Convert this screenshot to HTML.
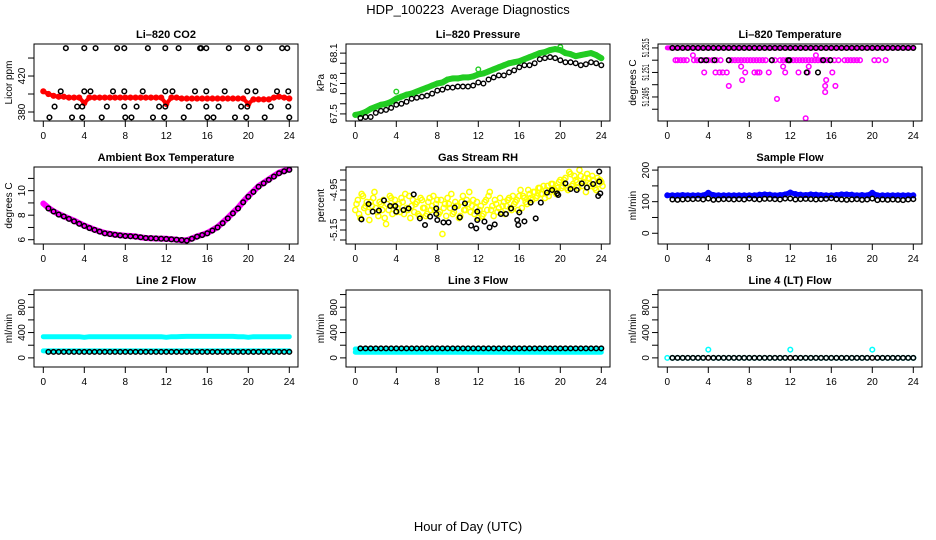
<!DOCTYPE html>
<html><head><meta charset="utf-8"><style>
html,body{margin:0;padding:0;background:#fff}
svg{display:block}
text{font-family:"Liberation Sans",Arial,sans-serif;fill:#000}
</style></head><body>
<svg id="chart" width="936" height="540" viewBox="0 0 936 540" xmlns="http://www.w3.org/2000/svg">
<text x="468" y="14" font-size="13" text-anchor="middle">HDP_100223&#160; Average Diagnostics</text>
<text x="468" y="531" font-size="13" text-anchor="middle">Hour of Day (UTC)</text>
</svg>
<script>
const xTicks=[0,4,8,12,16,20,24];
const co2Red=[403,400,398,397,397,396,396,396,390,396,396,396,396,396,396,396,396,396,396,396,396,396,396,396,389,396,396,395,395,395,395,395,395,395,395,395,395,395,395,395,389,394,394,394,394,396,397,396,395];
const co2BlackX=[2.2,4.0,5.1,7.2,7.9,10.2,11.9,13.2,15.3,15.4,15.9,18.1,19.9,21.1,23.3,23.8,1.7,4.0,4.6,6.8,7.9,9.7,11.9,12.6,14.8,15.9,17.7,19.9,20.7,22.8,23.9,1.1,3.3,3.8,6.2,7.9,9.1,11.3,11.9,14.2,15.9,17.1,19.3,19.9,22.2,23.9,0.6,2.8,3.8,5.7,8.0,8.6,10.7,11.8,13.7,16.0,16.6,18.7,19.8,21.6,24.0];
const co2BlackY=[451,451,451,451,451,451,451,451,451,451,451,451,451,451,451,451,403,403,403,403,403,403,403,403,403,403,403,403,403,403,403,386,386,386,386,386,386,386,386,386,386,386,386,386,386,386,374,374,374,374,374,374,374,374,374,374,374,374,374,374,374];
const presGreen=[67.49,67.50,67.52,67.55,67.57,67.59,67.60,67.62,67.65,67.67,67.69,67.70,67.72,67.74,67.76,67.78,67.80,67.81,67.84,67.85,67.85,67.86,67.86,67.87,67.89,67.90,67.92,67.94,67.96,67.98,68.00,68.01,68.02,68.04,68.06,68.08,68.10,68.11,68.13,68.14,68.13,68.10,68.09,68.07,68.08,68.09,68.10,68.08,68.05];
const presBlack=[null,67.46,67.47,67.47,67.51,67.53,67.54,67.56,67.59,67.60,67.62,67.65,67.66,67.67,67.68,67.70,67.73,67.74,67.76,67.76,67.77,67.77,67.77,67.78,67.81,67.80,67.84,67.86,67.88,67.88,67.91,67.93,67.96,67.98,67.98,68.00,68.04,68.05,68.06,68.05,68.03,68.01,68.01,68.00,67.98,67.99,68.01,68.00,67.98];
const presOutX=[4,12,20];
const presOutY=[67.72,67.94,68.16];
const tempTop=51.2515;
const tempMagX=[0.8,1.0,1.3,1.6,1.9,2.6,2.9,3.2,3.6,4.0,4.4,4.8,5.2,6.0,6.3,6.6,6.9,7.2,7.5,7.8,8.1,8.4,8.7,9.0,9.3,9.6,10.2,10.5,11.0,11.3,11.6,12.0,12.3,12.6,12.9,13.2,13.5,13.8,14.1,14.4,14.7,15.0,15.3,15.6,15.9,16.3,16.7,17.3,17.6,17.9,18.2,18.5,18.8,20.2,20.6,21.3,3.6,4.7,5.1,5.4,5.8,7.6,8.5,8.8,9.0,9.9,11.5,12.8,13.7,16.1,2.5,14.5,7.2,11.3,13.8,7.3,15.5,6.0,15.4,16.4,15.4,10.7,13.5];
const tempMagY=[51.2510,51.2510,51.2510,51.2510,51.2510,51.2510,51.2510,51.2510,51.2510,51.2510,51.2510,51.2510,51.2510,51.2510,51.2510,51.2510,51.2510,51.2510,51.2510,51.2510,51.2510,51.2510,51.2510,51.2510,51.2510,51.2510,51.2510,51.2510,51.2510,51.2510,51.2510,51.2510,51.2510,51.2510,51.2510,51.2510,51.2510,51.2510,51.2510,51.2510,51.2510,51.2510,51.2510,51.2510,51.2510,51.2510,51.2510,51.2510,51.2510,51.2510,51.2510,51.2510,51.2510,51.2510,51.2510,51.2510,51.2505,51.2505,51.2505,51.2505,51.2505,51.2505,51.2505,51.2505,51.2505,51.2505,51.2505,51.2505,51.2505,51.2505,51.2512,51.2512,51.25074,51.25074,51.25074,51.25019,51.25019,51.24995,51.24995,51.24995,51.2497,51.24942,51.24863];
const tempBlackLowX=[3.3,3.8,4.6,6.0,10.2,11.8,11.9,15.2,15.9,13.6,14.7];
const tempBlackLowY=[51.2510,51.2510,51.2510,51.2510,51.2510,51.2510,51.2510,51.2510,51.2510,51.2505,51.2505];
const ambMag=[8.95,8.6,8.32,8.1,7.91,7.73,7.56,7.35,7.15,6.98,6.82,6.68,6.55,6.48,6.42,6.37,6.33,6.3,6.27,6.2,6.14,6.12,6.1,6.09,6.08,6.04,6.0,5.95,5.95,6.1,6.27,6.4,6.55,6.78,7.04,7.4,7.78,8.2,8.6,9.1,9.55,9.95,10.37,10.65,10.92,11.2,11.47,11.62,11.74];
const ambBlack=[null,8.55,8.3,8.05,7.9,7.7,7.5,7.3,7.12,6.95,6.8,6.66,6.52,6.46,6.4,6.35,6.3,6.28,6.25,6.2,6.14,6.12,6.1,6.08,6.06,6.03,6.0,5.97,5.93,6.08,6.25,6.38,6.52,6.75,7.0,7.35,7.74,8.15,8.55,9.05,9.5,9.9,10.32,10.6,10.88,11.15,11.42,11.58,11.7];
const rhA=[-5.05,-5.00,-5.09,-4.98,-5.03,-5.06,-5.01,-4.99,-5.04,-5.08,-5.02,-5.00,-5.12,-5.05,-4.99,-5.03,-5.06,-5.02,-4.99,-5.07,-5.04,-4.98,-5.03,-5.06,-5.01,-5.08,-5.00,-5.04,-5.07,-4.99,-5.03,-5.05,-5.00,-5.06,-5.17,-5.02,-4.99,-5.04,-5.07,-5.01,-5.03,-5.08,-4.98,-5.05,-5.02,-5.06,-5.00,-5.04,-5.09,-5.03,-5.07,-5.00,-4.98,-5.05,-5.08,-5.02,-5.04,-5.06,-5.01,-5.03,-4.99,-5.05,-5.02,-5.00,-4.98,-5.04,-4.99,-5.02,-4.97,-5.00,-4.96,-4.98,-4.94,-4.97,-4.99,-4.93,-4.96,-4.92,-4.95,-4.94,-4.90,-4.93,-4.89,-4.95,-4.87,-4.92,-4.90,-4.94,-4.88,-4.91,-4.96,-4.89,-4.93,-4.90,-4.95,-4.92,-4.91];
const rhB=[-5.02,-5.07,-4.97,-5.04,-5.01,-5.10,-5.03,-4.96,-5.06,-5.01,-5.05,-5.09,-5.02,-4.98,-5.07,-5.00,-5.04,-5.06,-5.01,-4.97,-5.05,-5.09,-5.00,-5.02,-5.07,-4.99,-5.04,-5.08,-5.01,-5.05,-4.98,-5.02,-5.07,-5.00,-5.04,-5.08,-5.02,-4.97,-5.06,-5.03,-5.09,-5.01,-5.05,-5.00,-4.96,-5.03,-5.07,-5.01,-5.05,-5.08,-5.01,-5.05,-4.96,-5.03,-5.00,-5.06,-4.99,-5.03,-5.07,-5.00,-5.04,-4.98,-5.01,-5.05,-4.95,-4.98,-5.01,-4.95,-4.99,-4.96,-4.99,-4.94,-4.97,-4.93,-4.95,-4.98,-4.92,-4.95,-4.97,-4.91,-4.94,-4.90,-4.94,-4.86,-4.93,-4.88,-4.91,-4.85,-4.93,-4.89,-4.87,-4.92,-4.88,-4.94,-4.89,-4.90,-4.93];
const rhBlackX=[0.6,1.3,1.7,2.3,2.8,3.4,3.9,4.0,4.7,5.2,5.7,6.3,6.8,7.3,7.9,7.9,8.0,8.6,9.1,9.7,10.2,10.7,11.3,11.8,11.9,11.9,12.6,13.1,13.6,14.2,14.7,15.2,15.8,15.9,16.0,16.5,17.1,17.6,18.1,18.7,19.2,19.7,19.8,20.5,21.0,21.6,22.1,22.6,23.2,23.7,23.8,23.8,23.9];
const rhBlackY=[-5.097,-5.02,-5.058,-5.053,-5.002,-5.03,-5.03,-5.058,-5.05,-5.042,-4.972,-5.092,-5.125,-5.083,-5.042,-5.07,-5.1,-5.112,-5.112,-5.038,-5.087,-5.017,-5.128,-5.142,-5.058,-5.1,-5.108,-5.137,-5.122,-5.07,-5.07,-5.042,-5.1,-5.125,-5.062,-5.107,-5.013,-5.092,-5.013,-4.963,-4.95,-4.967,-4.975,-4.917,-4.945,-4.95,-4.917,-4.938,-4.92,-4.98,-4.908,-4.858,-4.967];
const flowBlue=[120,120,120,121,120,120,120,120,128,121,120,120,120,120,120,120,120,120,122,123,122,120,121,123,129,124,122,121,123,122,121,120,120,121,123,123,122,120,121,120,128,120,120,120,120,120,120,120,120];
const flowBlack=[null,107,106,107,108,108,109,107,110,106,107,108,108,107,108,107,110,108,107,109,109,108,107,110,110,107,108,109,108,107,108,109,111,108,107,106,107,108,106,107,110,105,107,106,107,106,105,107,108];
const l2CyanHi=[335,335,335,335,335,335,335,335,325,335,335,335,335,335,335,335,335,335,335,335,335,335,335,335,325,335,335,338,340,340,340,340,340,340,340,340,340,340,335,335,325,335,335,335,335,335,335,335,335];
const l2CyanLo=[110,110,110,110,110,110,110,110,110,110,110,110,110,110,110,110,110,110,110,110,110,110,110,110,110,110,110,110,110,110,110,110,110,110,110,110,110,110,110,110,110,110,110,110,110,110,110,110,110];
const l2Black=[null,95,95,95,95,95,95,95,95,95,95,95,95,95,95,95,95,95,95,95,95,95,95,95,95,95,95,95,95,95,95,95,95,95,95,95,95,95,95,95,95,95,95,95,95,95,95,95,95];
const l3CyanHi=[140,140,140,140,140,140,140,140,140,140,140,140,140,140,140,140,140,140,140,140,140,140,140,140,140,140,140,140,140,140,140,140,140,140,140,140,140,140,140,140,140,140,140,140,140,140,140,140,140];
const l3CyanLo=[90,90,90,90,90,90,90,90,90,90,90,90,90,90,90,90,90,90,90,90,90,90,90,90,90,90,90,90,90,90,90,90,90,90,90,90,90,90,90,90,90,90,90,90,90,90,90,90,90];
const l3Black=[null,150,150,150,150,150,150,150,150,150,150,150,150,150,150,150,150,150,150,150,150,150,150,150,150,150,150,150,150,150,150,150,150,150,150,150,150,150,150,150,150,150,150,150,150,150,150,150,150];
const l4Cyan=[0,0,0,0,0,0,0,0,130,0,0,0,0,0,0,0,0,0,0,0,0,0,0,0,130,0,0,0,0,0,0,0,0,0,0,0,0,0,0,0,130,0,0,0,0,0,0,0,0];
const l4Black=[null,0,0,0,0,0,0,0,0,0,0,0,0,0,0,0,0,0,0,0,0,0,0,0,0,0,0,0,0,0,0,0,0,0,0,0,0,0,0,0,0,0,0,0,0,0,0,0,0];

const hours=[];for(let i=0;i<49;i++)hours.push(i*0.5);
const hoursQ=[];for(let i=0;i<97;i++)hoursQ.push(i*0.25);
const hoursQb=[];for(let i=0;i<97;i++)hoursQb.push(i*0.25+0.12);

const NS='http://www.w3.org/2000/svg';
const svg=document.getElementById('chart');
function mk(tag,attrs,parent){const e=document.createElementNS(NS,tag);for(const k in attrs)e.setAttribute(k,attrs[k]);(parent||svg).appendChild(e);return e;}

function panel(name,col,row,title,ymin,ymax,yticks,ylabels,ylab,labLen){
  const x0=34+col*312,y0=44+row*123,w=264,h=77;
  const g=mk('g',{});
  
  
  const sx=v=>x0+9.3+v*10.25;
  const sy=v=>y0+h-(v-ymin)/(ymax-ymin)*h;
  const t=mk('text',{x:x0+w/2,y:y0-6,'font-size':11,'font-weight':'bold','text-anchor':'middle'},g);
  t.textContent=title;
  
  
  const clip=mk('clipPath',{id:'c'+name},g);
  mk('rect',{x:x0,y:y0,width:w,height:h},clip);
  const plot=mk('g',{'clip-path':'url(#c'+name+')'},g);
  
  
  const xa=mk('g',{},g);
  
  
  xTicks.forEach(v=>{
    mk('line',{x1:sx(v),x2:sx(v),y1:y0+h,y2:y0+h+6,stroke:'#000','stroke-width':1},xa);
    const l=mk('text',{x:sx(v),y:y0+h+18,'font-size':10,'text-anchor':'middle'},xa);l.textContent=v;
  });
  const ya=mk('g',{},g);
  
  
  yticks.forEach((v,i)=>{
    const yy=sy(v);
    mk('line',{x1:x0-6,x2:x0,y1:yy,y2:yy,stroke:'#000','stroke-width':1},ya);
    if(ylabels[i]){
      const at={x:0,y:0,'font-size':10,'text-anchor':'middle',transform:`translate(${x0-9},${yy}) rotate(-90)`};
      if(labLen){at.textLength=labLen*ylabels[i].length/7;at.lengthAdjust='spacingAndGlyphs';}
      const l=mk('text',at,ya);l.textContent=ylabels[i];}
  });
  const yl=mk('text',{x:0,y:0,'font-size':10,'text-anchor':'middle',transform:`translate(${x0-22},${y0+h/2}) rotate(-90)`},g);
  yl.textContent=ylab;
  
  
  mk('rect',{x:x0,y:y0,width:w,height:h,fill:'none',stroke:'#000','stroke-width':1},g);
  return {sx,sy,plot};
}
function pts(p,name,xs,ys,color,r,sw){
  const g=mk('g',{},p.plot);
  
  
  for(let i=0;i<xs.length;i++){
    if(ys[i]===null||ys[i]===undefined)continue;
    const c=mk('circle',{cx:p.sx(xs[i]),cy:p.sy(ys[i]),r:r||2.3,fill:'none',stroke:color,'stroke-width':sw||1.4},g);
    
    
  }
}
function band(p,name,xs,ys,color,w){
  let d='';
  for(let i=0;i<xs.length;i++){if(ys[i]===null)continue;d+=(d?'L':'M')+p.sx(xs[i]).toFixed(1)+','+p.sy(ys[i]).toFixed(1);}
  const e=mk('path',{d:d,fill:'none',stroke:color,'stroke-width':w,'stroke-linejoin':'round','stroke-linecap':'round'},p.plot);
  
  
}
function constArr(n,v){const a=[];for(let i=0;i<n;i++)a.push(v);return a;}

let p=panel('co2',0,0,'Li\u2013820 CO2',370,455.6,[380,400,420,440],['380','','420',''],'Licor ppm');
band(p,'co2-red-band',hours,co2Red,'#ff0000',4);
pts(p,'co2-red-series',hours,co2Red,'#ff0000',2.3,1.6);
pts(p,'co2-black-series',co2BlackX,co2BlackY,'#000',2.3,1.5);

p=panel('pressure',1,0,'Li\u2013820 Pressure',67.43,68.19,[67.5,67.6,67.7,67.8,67.9,68.0,68.1],['67.5','','','67.8','','','68.1'],'kPa');
band(p,'pressure-green-band',hours,presGreen,'#22cc22',6);
pts(p,'pressure-green-series',hours,presGreen,'#22cc22',2.3,1.4);
pts(p,'pressure-green-outliers',presOutX,presOutY,'#22cc22',2.3,1.4);
pts(p,'pressure-black-series',hours,presBlack,'#000',2.3,1.4);

p=panel('licor-temp',2,0,'Li\u2013820 Temperature',51.24852,51.25166,[51.2515,51.2510,51.2505,51.2500,51.2495,51.2490],['51.2515','','51.251','','51.2495',''],'degrees C',19);
band(p,'licor-temp-magenta-band',hours,constArr(49,tempTop),'#ff00ff',5);
pts(p,'licor-temp-magenta-series',tempMagX,tempMagY,'#ff00ff',2.3,1.5);
pts(p,'licor-temp-black-series',hours.slice(1),constArr(48,tempTop),'#000',2.3,1.5);
pts(p,'licor-temp-black-low',tempBlackLowX,tempBlackLowY,'#000',2.3,1.5);

p=panel('ambient',0,1,'Ambient Box Temperature',5.65,11.93,[6,7,8,9,10,11],['6','','8','','10',''],'degrees C');
band(p,'ambient-magenta-band',hours,ambMag,'#ff00ff',6);
pts(p,'ambient-black-series',hours,ambBlack,'#000',2.3,1.5);

p=panel('rh',1,1,'Gas Stream RH',-5.22,-4.835,[-5.20,-5.15,-5.10,-5.05,-5.00,-4.95,-4.90,-4.85],['','-5.15','','','','-4.95','',''],'percent');
pts(p,'rh-yellow-series-a',hoursQ,rhA,'#ffff00',2.6,1.5);
pts(p,'rh-yellow-series-b',hoursQb,rhB,'#ffff00',2.6,1.5);
pts(p,'rh-black-series',rhBlackX,rhBlackY,'#000',2.3,1.5);

p=panel('sample-flow',2,1,'Sample Flow',-34,209.8,[0,50,100,150,200],['0','','100','','200'],'ml/min');
band(p,'sample-flow-blue-band',hours,flowBlue,'#0000ff',5);
pts(p,'sample-flow-blue-series',hours,flowBlue,'#0000ff',2.3,1.5);
pts(p,'sample-flow-black-series',hours,flowBlack,'#000',2.3,1.5);

p=panel('line2',0,2,'Line 2 Flow',-144,1072,[0,200,400,600,800,1000],['0','','400','','800',''],'ml/min');
band(p,'line2-cyan-high-band',hours,l2CyanHi,'#00ffff',5);
band(p,'line2-cyan-low-band',hours,l2CyanLo,'#00ffff',5);
pts(p,'line2-black-series',hours,l2Black,'#000',2.3,1.5);

p=panel('line3',1,2,'Line 3 Flow',-144,1072,[0,200,400,600,800,1000],['0','','400','','800',''],'ml/min');
band(p,'line3-cyan-high-band',hours,l3CyanHi,'#00ffff',5);
band(p,'line3-cyan-low-band',hours,l3CyanLo,'#00ffff',5);
pts(p,'line3-black-series',hours,l3Black,'#000',2.3,1.5);

p=panel('line4',2,2,'Line 4 (LT) Flow',-144,1072,[0,200,400,600,800,1000],['0','','400','','800',''],'ml/min');
pts(p,'line4-cyan-series',hours,l4Cyan,'#00ffff',2.3,1.5);
pts(p,'line4-black-series',hours,l4Black,'#000',2.3,1.5);
</script>
</body></html>
